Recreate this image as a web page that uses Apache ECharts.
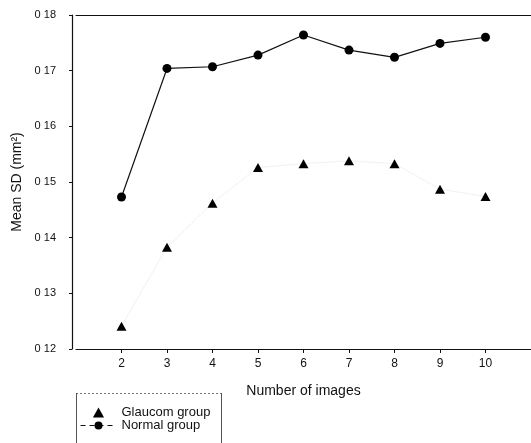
<!DOCTYPE html>
<html>
<head>
<meta charset="utf-8">
<script src="https://cdn.jsdelivr.net/npm/echarts@6/dist/echarts.min.js"></script>
<style>
  html, body { margin: 0; padding: 0; background: #fff; }
  #chart { width: 531px; height: 443px; }
</style>
</head>
<body>
<div id="chart"></div>
<script>
// Number of images averaged per measurement
const imageCounts = [2, 3, 4, 5, 6, 7, 8, 9, 10];
// Mean SD (mm^2) for each group
const glaucomValues = [0.1241, 0.1383, 0.1462, 0.1526, 0.1533, 0.1538, 0.1533, 0.1487, 0.1474];
const normalValues  = [0.1473, 0.1704, 0.1707, 0.1728, 0.1764, 0.1737, 0.1724, 0.1749, 0.1760];
// Y tick labels, from 0.12 up to 0.18
const yTickLabels = ['0 12', '0 13', '0 14', '0 15', '0 16', '0 17', '0 18'];

const font = 'Liberation Sans, Arial, sans-serif';
const ink = '#111';
const pairs = (vals) => imageCounts.map((n, i) => [n, vals[i]]);

const chart = echarts.init(document.getElementById('chart'), null, { renderer: 'canvas' });
chart.setOption({
  animation: false,
  backgroundColor: '#ffffff',
  textStyle: { fontFamily: font, color: ink },
  grid: { left: 76, top: 15, width: 460, bottom: 94, containLabel: false },
  legend: {
    orient: 'vertical',
    left: 80,
    top: 406,
    padding: 0,
    itemGap: 0,
    itemWidth: 36,
    itemHeight: 10,
    textStyle: { fontFamily: font, fontSize: 13, color: ink },
    data: [
      { name: 'Glaucom group', icon: 'path://M5,0 L10,9 L0,9 Z' },
      { name: 'Normal group', lineStyle: { type: [5, 4], width: 1 } }
    ]
  },
  // legend frame: dotted top edge, solid sides running off the bottom
  graphic: [
    { type: 'line', shape: { x1: 76, y1: 393.5, x2: 221, y2: 393.5 }, style: { stroke: '#777', lineWidth: 1, lineDash: [2, 2] } },
    { type: 'line', shape: { x1: 76.5, y1: 393, x2: 76.5, y2: 443 }, style: { stroke: '#555', lineWidth: 1 } },
    { type: 'line', shape: { x1: 221.5, y1: 393, x2: 221.5, y2: 443 }, style: { stroke: '#555', lineWidth: 1 } }
  ],
  xAxis: [
    {
      type: 'value',
      min: 1,
      max: 11,
      interval: 1,
      name: 'Number of images',
      nameLocation: 'middle',
      nameGap: 35,
      nameTextStyle: { fontFamily: font, fontSize: 14, color: ink, verticalAlign: 'top' },
      axisLine: { show: true, lineStyle: { color: ink, width: 1.2 } },
      axisTick: { show: true, inside: false, length: 4, customValues: imageCounts, lineStyle: { color: ink } },
      axisLabel: { customValues: imageCounts, margin: 9, fontSize: 12, color: ink, fontFamily: font },
      splitLine: { show: false }
    },
    {
      type: 'value',
      position: 'top',
      min: 1,
      max: 11,
      axisLine: { show: true, lineStyle: { color: ink, width: 1.2 } },
      axisTick: { show: false },
      axisLabel: { show: false },
      splitLine: { show: false }
    }
  ],
  yAxis: {
    type: 'value',
    min: 0.12,
    max: 0.18,
    interval: 0.01,
    offset: 4,
    name: 'Mean SD (mm²)',
    nameLocation: 'middle',
    nameRotate: 90,
    nameGap: 39,
    nameTextStyle: { fontFamily: font, fontSize: 14, color: ink },
    axisLine: { show: true, lineStyle: { color: ink, width: 1.2 } },
    axisTick: { show: true, inside: false, length: 3, lineStyle: { color: ink } },
    axisLabel: {
      fontSize: 11,
      color: ink,
      fontFamily: font,
      margin: 16,
      formatter: (v) => yTickLabels[Math.round((v - 0.12) / 0.01)]
    },
    splitLine: { show: false }
  },
  series: [
    {
      name: 'Glaucom group',
      type: 'line',
      data: pairs(glaucomValues),
      symbol: 'triangle',
      symbolSize: [10, 9],
      itemStyle: { color: '#000' },
      lineStyle: { color: '#e4e4e4', width: 1, type: 'dotted' }
    },
    {
      name: 'Normal group',
      type: 'line',
      data: pairs(normalValues),
      symbol: 'circle',
      symbolSize: 9,
      itemStyle: { color: '#000' },
      lineStyle: { color: ink, width: 1.2 }
    }
  ]
});
</script>
</body>
</html>
